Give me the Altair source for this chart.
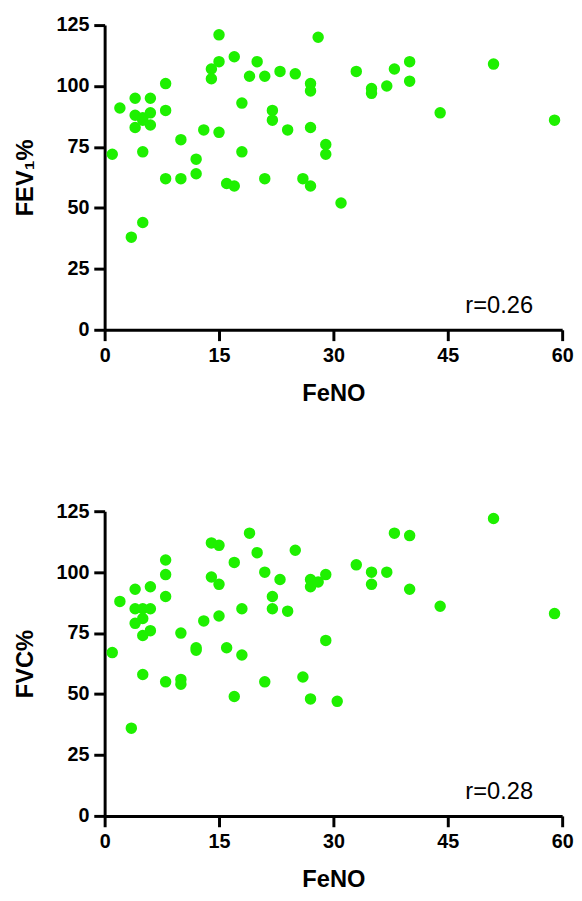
import altair as alt
import pandas as pd

# ---- Data ----
feno_top = [15, 15, 14, 14, 8, 4, 6, 2, 8, 4, 5, 6, 6, 4, 13, 15, 10, 1, 5, 12,
            12, 8, 10, 16, 5, 3.5, 28, 17, 20, 19, 21, 23, 25, 27, 27, 18, 22, 22, 24, 27,
            29, 29, 18, 17, 21, 26, 27, 31, 33, 35, 35, 37, 38, 40, 40, 44, 51, 59, 5]
fev1 = [121, 110, 107, 103, 101, 95, 95, 91, 90, 88, 87, 89, 84, 83, 82, 81, 78, 72, 73, 70,
        64, 62, 62, 60, 44, 38, 120, 112, 110, 104, 104, 106, 105, 101, 98, 93, 90, 86, 82, 83,
        76, 72, 73, 59, 62, 62, 59, 52, 106, 99, 97, 100, 107, 110, 102, 89, 109, 86, 86]

feno_bot = [14, 15, 8, 8, 14, 15, 4, 6, 8, 2, 4, 5, 6, 5, 4, 6, 5, 10, 13, 15,
            1, 12, 12, 16, 5, 8, 10, 10, 3.5, 19, 20, 25, 17, 21, 23, 27, 27, 28, 29, 22,
            22, 24, 18, 29, 18, 21, 26, 17, 27, 30.5, 33, 35, 35, 37, 38, 40, 40, 44, 51, 59]
fvc = [112, 111, 105, 99, 98, 95, 93, 94, 90, 88, 85, 85, 85, 81, 79, 76, 74, 75, 80, 82,
       67, 69, 68, 69, 58, 55, 56, 54, 36, 116, 108, 109, 104, 100, 97, 97, 94, 96, 99, 90,
       85, 84, 85, 72, 66, 55, 57, 49, 48, 47, 103, 100, 95, 100, 116, 115, 93, 86, 122, 83]

y_titles = ["FEV\u2081%", "FVC%"]
r_labels = ["r=0.26", "r=0.28"]
x_ticks = [0, 15, 30, 45, 60]
y_ticks = [0, 25, 50, 75, 100, 125]

GREEN = "#1EF000"
FONT = "Liberation Sans"


def panel(xs, ys, ytitle, rlabel):
    df = pd.DataFrame({"FeNO": xs, "val": ys})
    pts = alt.Chart(df).mark_circle(size=135, color=GREEN, opacity=1).encode(
        x=alt.X("FeNO:Q",
                scale=alt.Scale(domain=[0, 60], nice=False, zero=True),
                axis=alt.Axis(values=x_ticks, title="FeNO")),
        y=alt.Y("val:Q",
                scale=alt.Scale(domain=[0, 125], nice=False),
                axis=alt.Axis(values=y_ticks, title=ytitle)),
    )
    tdf = pd.DataFrame({"x": [47.3], "y": [9.7], "t": [rlabel]})
    txt = alt.Chart(tdf).mark_text(
        align="left", baseline="middle", font=FONT, fontSize=24, color="black"
    ).encode(x="x:Q", y="y:Q", text="t:N")
    return alt.layer(pts, txt).properties(width=464, height=309)


top = panel(feno_top, fev1, y_titles[0], r_labels[0])
bot = panel(feno_bot, fvc, y_titles[1], r_labels[1])

chart = alt.vconcat(top, bot, spacing=97).properties(
    padding={"top": 1, "left": 5, "right": 0, "bottom": 5}
).configure_view(
    stroke=None
).configure_axis(
    grid=False,
    domainColor="black", domainWidth=3,
    tickColor="black", tickWidth=3, tickSize=11,
    labelFont=FONT, labelFontSize=20, labelFontWeight="bold", labelColor="black",
    labelPadding=5,
    titleFont=FONT, titleFontSize=24, titleFontWeight="bold", titleColor="black",
).configure_axisX(
    titlePadding=17, labelFlush=False
).configure_axisY(
    titlePadding=19
)

chart.save("out.html", embed_options={"renderer": "svg", "actions": False})
